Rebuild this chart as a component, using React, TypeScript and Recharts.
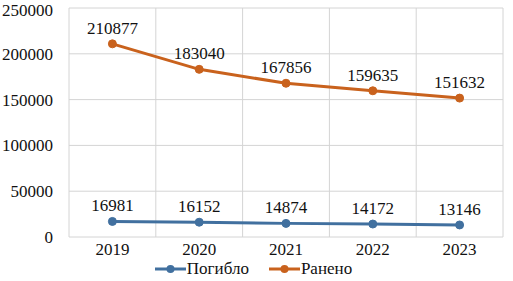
import React from "react";
import {
  CartesianGrid,
  LabelList,
  Legend,
  Line,
  LineChart,
  XAxis,
  YAxis,
} from "recharts";

const years = [2019, 2020, 2021, 2022, 2023];
const killed = [16981, 16152, 14874, 14172, 13146];
const wounded = [210877, 183040, 167856, 159635, 151632];
const yTicks = [0, 50000, 100000, 150000, 200000, 250000];
const gridTicks = [2018.5, 2019.5, 2020.5, 2021.5, 2022.5, 2023.5];

const series = [
  { key: "killed", name: "Погибло", color: "#41709f" },
  { key: "wounded", name: "Ранено", color: "#c9621d" },
];

const data = years.map((year, i) => ({
  year,
  killed: killed[i],
  wounded: wounded[i],
}));

const font = "'Liberation Serif', Tinos, 'Times New Roman', Times, 'DejaVu Serif', serif";

const LegendContent = () => (
  <div
    style={{
      display: "flex",
      justifyContent: "center",
      fontFamily: font,
      fontSize: 17,
      color: "#111",
      gap: 20,
      paddingLeft: 4,
      lineHeight: "18px",
    }}
  >
    {series.map((s) => (
      <div key={s.key} style={{ display: "flex", alignItems: "center" }}>
        <svg width={31} height={12} style={{ marginRight: 1 }}>
          <line x1={0} y1={6} x2={31} y2={6} stroke={s.color} strokeWidth={3} />
          <circle cx={15.5} cy={6} r={4} fill={s.color} />
        </svg>
        <span>{s.name}</span>
      </div>
    ))}
  </div>
);

const App = () => {
  return (
    <div style={{ position: "absolute", left: 0, top: 0, background: "#fff" }}>
      <LineChart
        width={513}
        height={281}
        data={data}
        margin={{ top: 8, right: 10, left: 0, bottom: 0 }}
        style={{ fontFamily: font }}
      >
        <CartesianGrid stroke="#d4d4d4" xAxisId="grid" />
        <XAxis
          xAxisId="grid"
          orientation="top"
          type="number"
          dataKey="year"
          domain={[2018.5, 2023.5]}
          ticks={gridTicks}
          height={0}
          hide
        />
        <XAxis
          xAxisId="main"
          type="number"
          dataKey="year"
          domain={[2018.5, 2023.5]}
          ticks={years}
          axisLine={false}
          tickLine={false}
          tickSize={0}
          tickMargin={6}
          height={26}
          tick={{ fontFamily: font, fontSize: 17, fill: "#111" }}
        />
        <YAxis
          domain={[0, 250000]}
          ticks={yTicks}
          axisLine={false}
          tickLine={false}
          tickSize={0}
          tickMargin={16}
          width={69}
          tick={{ fontFamily: font, fontSize: 17, fill: "#111" }}
        />
        <Legend
          verticalAlign="bottom"
          height={18}
          wrapperStyle={{ bottom: 3 }}
          content={<LegendContent />}
        />
        {series.map((s) => (
          <Line
            key={s.key}
            xAxisId="main"
            dataKey={s.key}
            name={s.name}
            stroke={s.color}
            strokeWidth={3}
            dot={{ r: 4, fill: s.color, stroke: s.color, strokeWidth: 1 }}
            isAnimationActive={false}
          >
            <LabelList
              dataKey={s.key}
              position="top"
              offset={10}
              fontFamily={font}
              fontSize={17}
              fill="#111"
            />
          </Line>
        ))}
      </LineChart>
    </div>
  );
};

export default App;
